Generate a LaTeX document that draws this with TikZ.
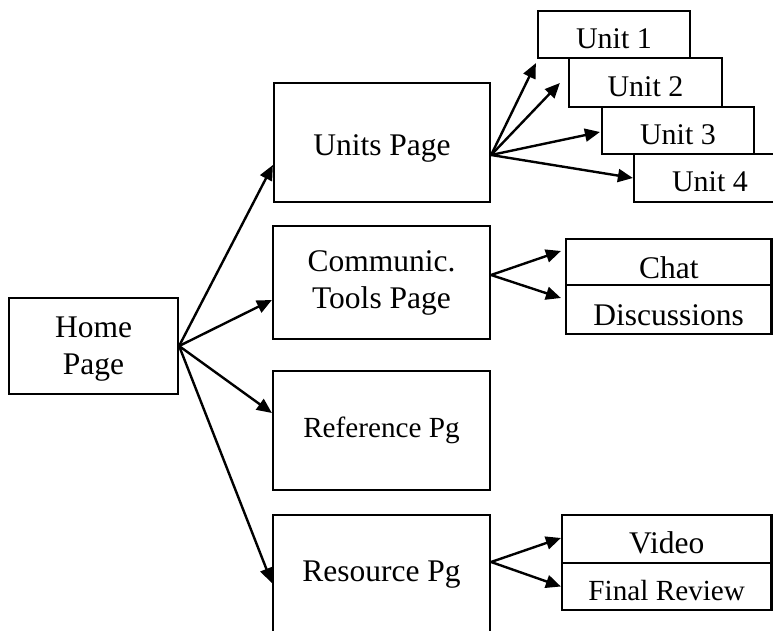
\documentclass[tikz,border=0pt]{standalone}
\usepackage{fontspec}
\setmainfont{Liberation Serif}
\usetikzlibrary{arrows.meta,calc}
\begin{document}
\begin{tikzpicture}[x=0.5pt,y=-0.5pt,
  box/.style={draw,line width=1.1pt,fill=white,inner sep=0pt},
  conn/.style={line width=1.2pt,-{Triangle[length=7.5pt,width=6.5pt]}},
  big/.style={font=\fontsize{15.75}{18.5}\selectfont},
  small/.style={font=\fontsize{14.6}{17}\selectfont},
  mid/.style={font=\fontsize{15}{17}\selectfont}]
\clip (0,0) rectangle (773,631);
% main column
\node[box,minimum width=84.5pt,minimum height=48pt,label={[big,align=center,yshift=-1.5pt]center:Home\\Page}] (home) at (93.5,346) {};
\node[box,minimum width=108pt,minimum height=59.5pt,label={[big,yshift=-3pt]center:Units Page}] (units) at (382,142.5) {};
\node[box,big,align=center,minimum width=108.5pt,minimum height=56.5pt] (comm) at (381.5,282.5) {Communic.\\Tools Page};
\node[box,small,minimum width=108.5pt,minimum height=59.5pt] (ref) at (381.5,430.5) {Reference Pg};
\node[box,big,minimum width=108.5pt,minimum height=60pt] (res) at (381.5,575) {Resource Pg};
% units
\node[box,minimum width=76pt,minimum height=23.5pt,label={[mid,yshift=-2pt]center:Unit 1}] (u1) at (614,34.5) {};
\node[box,minimum width=76.5pt,minimum height=24.5pt,label={[mid,yshift=-2pt]center:Unit 2}] (u2) at (645.5,82.5) {};
\node[box,minimum width=76pt,minimum height=23.5pt,label={[mid,yshift=-2pt]center:Unit 3}] (u3) at (678,130.5) {};
\node[box,minimum width=76pt,minimum height=24pt,label={[mid,yshift=-2pt]center:Unit 4}] (u4) at (710,178) {};
% communication
\node[box,minimum width=102.75pt,minimum height=23pt,label={[big,yshift=-3pt]center:Chat}] (chat) at (668.75,262) {};
\node[box,minimum width=102.75pt,minimum height=24.5pt,label={[big,yshift=-3pt]center:Discussions}] (disc) at (668.75,309.5) {};
% resources
\node[box,minimum width=104.75pt,minimum height=24pt,label={[big,yshift=-2pt]center:Video}] (video) at (666.75,539) {};
\node[box,minimum width=104.75pt,minimum height=23.5pt,label={[small,yshift=-2pt]center:Final Review}] (final) at (666.75,586.5) {};
% source points
\coordinate (uo) at ($(units.east)+(0,12.5)$);
\coordinate (co) at ($(comm.east)+(0,-7.5)$);
\coordinate (ro) at ($(res.east)+(0,-13)$);
% connectors from home
\draw[conn] (home.east) -- ($(units.west)+(0,22.5)$);
\draw[conn] (home.east) -- ($(comm.west)+(0,17.5)$);
\draw[conn] (home.east) -- ($(ref.west)+(0,-17.5)$);
\draw[conn] (home.east) -- ($(res.west)+(0,8)$);
% connectors from units
\draw[conn] (uo) -- ($(u1.south west)+(-1,4)$);
\draw[conn] (uo) -- ($(u2.west)+(-8,0.5)$);
\draw[conn] (uo) -- ($(u3.west)+(-1,1.5)$);
\draw[conn] (uo) -- (u4.west);
% connectors from comm
\draw[conn] (co) -- ($(chat.west)+(-4,-11)$);
\draw[conn] (co) -- ($(disc.west)+(-4,-11.5)$);
% connectors from resources
\draw[conn] (ro) -- ($(video.west)+(0,-1)$);
\draw[conn] (ro) -- (final.west);
\end{tikzpicture}
\end{document}
